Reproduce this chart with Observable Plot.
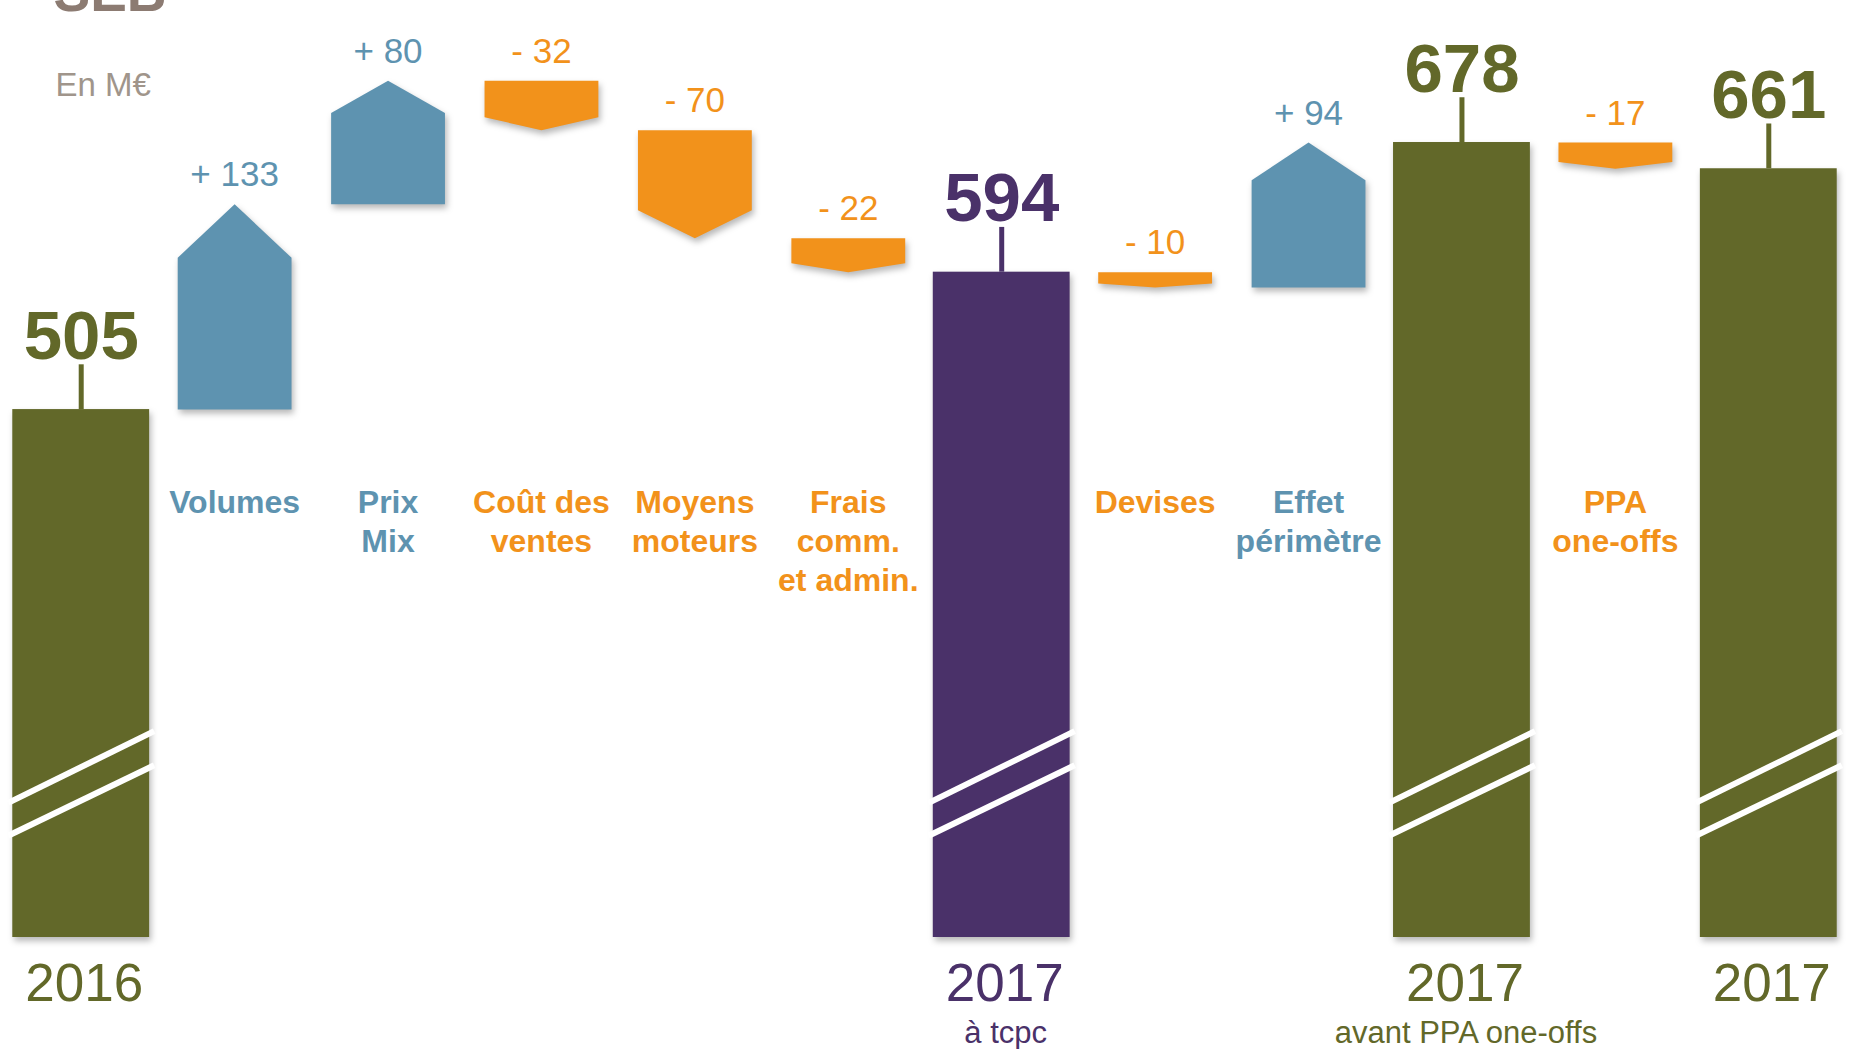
<!DOCTYPE html>
<html>
<head>
<meta charset="utf-8">
<script src="https://cdn.jsdelivr.net/npm/d3@7"></script>
<script src="https://cdn.jsdelivr.net/npm/@observablehq/plot@0.6"></script>
<style>
  html, body { margin: 0; padding: 0; background: #fff; }
  #chart svg { display: block; }
</style>
</head>
<body>
<div id="chart"></div>
<script>
// ---------- DATA ----------
const categories = ["2016", "Volumes", "Prix Mix", "Coût des ventes", "Moyens moteurs", "Frais comm. et admin.", "2017 à tcpc", "Devises", "Effet périmètre", "2017 avant PPA one-offs", "PPA one-offs", "2017"];
const kinds = ["total", "delta", "delta", "delta", "delta", "delta", "total tcpc", "delta", "delta", "total", "delta", "total"];
const values = [505, 133, 80, -32, -70, -22, 594, -10, 94, 678, -17, 661];
const valueLabels = ["505", "+ 133", "+ 80", "- 32", "- 70", "- 22", "594", "- 10", "+ 94", "678", "- 17", "661"];
const categoryLabels = ["", "Volumes", "Prix\nMix", "Coût des\nventes", "Moyens\nmoteurs", "Frais\ncomm.\net admin.", "", "Devises", "Effet\npérimètre", "", "PPA\none-offs", ""];
const yearLabels = ["2016", "", "", "", "", "", "2017", "", "", "2017", "", "2017"];
const yearSubLabels = ["", "", "", "", "", "", "à tcpc", "", "", "avant PPA one-offs", "", ""];
const unitLabel = "En M€";
const logoLabel = "SEB";

// ---------- LAYOUT / STYLE ----------
const W = 1849, H = 1049;
const yDomain = [163, 770];          // broken value axis (bars do not start at 0)
const totalHalf = 0.446, deltaHalf = 0.371, headShare = 0.26;
const stemLen = 29;                  // in M€ units
const breakPairs = [[251.7, 295.2], [230.4, 273.1]];
const palette = {domain: ["total", "total tcpc", "hausse", "baisse"], range: ["#626829", "#4a3169", "#5e93b0", "#f2921b"]};

// ---------- DERIVED ROWS ----------
let level = 0;
const rows = categories.map((c, i) => {
  const k = kinds[i], v = values[i];
  let start, end;
  if (k !== "delta") { start = null; end = v; }
  else { start = level; end = level + v; }
  level = end;
  return {
    i, c, k, v, start, end,
    tone: k !== "delta" ? k : (v >= 0 ? "hausse" : "baisse"),
    label: valueLabels[i], cat: categoryLabels[i], year: yearLabels[i], sub: yearSubLabels[i]
  };
});
const totals = rows.filter(d => d.k !== "delta");
const deltas = rows.filter(d => d.k === "delta");

const polys = deltas.flatMap(d => {
  const sh = d.end - headShare * (d.end - d.start);
  return [[d.i - deltaHalf, d.start], [d.i - deltaHalf, sh], [d.i, d.end], [d.i + deltaHalf, sh], [d.i + deltaHalf, d.start]]
    .map(([x, y]) => ({id: d.i, tone: d.tone, x, y}));
});

const ext = 0.03;
const breakLinks = totals.flatMap(d => breakPairs.map(([a, b]) => {
  const s = (b - a) / (2 * totalHalf);
  return {x1: d.i - totalHalf - ext, y1: a - s * ext, x2: d.i + totalHalf + ext, y2: b + s * ext};
}));

const chart = Plot.plot({
  width: W, height: H,
  marginTop: 0, marginBottom: 112, marginLeft: 4, marginRight: 4,
  x: {type: "linear", domain: [-0.5, categories.length - 0.5], axis: null},
  y: {domain: yDomain, axis: null},
  color: {type: "ordinal", domain: palette.domain, range: palette.range},
  style: {fontFamily: "'Liberation Sans', Arial, sans-serif", background: "white"},
  marks: [
    Plot.rect(totals, {x1: d => d.i - totalHalf, x2: d => d.i + totalHalf, y1: d => yDomain[0], y2: "end", fill: "tone"}),
    Plot.line(polys, {x: "x", y: "y", z: "id", fill: "tone", stroke: "none", curve: "linear"}),
    Plot.link(breakLinks, {x1: "x1", y1: "y1", x2: "x2", y2: "y2", stroke: "white", strokeWidth: 6}),
    Plot.ruleX(totals, {x: "i", y1: "end", y2: d => d.end + stemLen, stroke: "tone", strokeWidth: 5}),
    Plot.text(totals, {x: "i", y: d => d.end + stemLen, text: "label", fill: "tone", fontSize: 69, fontWeight: "bold", lineAnchor: "bottom", dy: -6}),
    Plot.text(deltas, {x: "i", y: d => Math.max(d.start, d.end), text: "label", fill: "tone", fontSize: 35, lineAnchor: "bottom", dy: -18}),
    Plot.text(deltas, {x: "i", frameAnchor: "top", text: "cat", fill: "tone", fontSize: 32, fontWeight: "bold", lineAnchor: "top", lineHeight: 1.22, dy: 485}),
    Plot.text(totals, {x: "i", frameAnchor: "bottom", text: "year", fill: "tone", fontSize: 53, lineAnchor: "bottom", dy: 63, dx: 3}),
    Plot.text(totals, {x: "i", frameAnchor: "bottom", text: "sub", fill: "tone", fontSize: 31, lineAnchor: "bottom", dy: 105, dx: 4}),
    Plot.text([unitLabel], {frameAnchor: "top-left", text: d => d, textAnchor: "start", lineAnchor: "bottom", dx: 51, dy: 95, fontSize: 33, fill: "#a0958b"}),
    Plot.text([logoLabel], {frameAnchor: "top-left", text: d => d, textAnchor: "start", lineAnchor: "bottom", dx: 49, dy: 10, fontSize: 55, fontWeight: "bold", fill: "#8c7b72"})
  ]
});

chart.querySelectorAll('g[aria-label="rect"], g[aria-label="line"]').forEach(g => {
  g.style.filter = "drop-shadow(2px 4px 3px rgba(0,0,0,0.28))";
});
document.getElementById("chart").appendChild(chart);
</script>
</body>
</html>
